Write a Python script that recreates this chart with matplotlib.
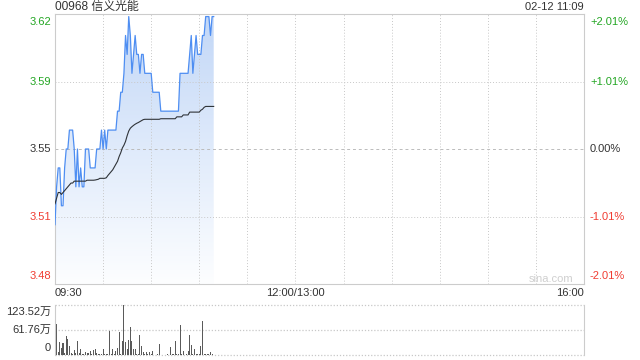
import numpy as np
import matplotlib
matplotlib.use("Agg")
import matplotlib.pyplot as plt
from matplotlib.colors import LinearSegmentedColormap

plt.rcParams['font.family'] = ['Liberation Sans', 'Noto Sans CJK SC', 'DejaVu Sans']

title = "00968 信义光能"
stamp = "02-12 11:09"
prev_close = 3.55
range_pct = 2.01

price = [3.51, 3.53, 3.54, 3.54, 3.52, 3.52, 3.54, 3.55, 3.55, 3.56,
         3.56, 3.56, 3.55, 3.53, 3.55, 3.53, 3.54, 3.53, 3.53, 3.55,
         3.55, 3.55, 3.54, 3.54, 3.54, 3.54, 3.55, 3.55, 3.55, 3.56,
         3.55, 3.56, 3.55, 3.56, 3.56, 3.56, 3.56, 3.56, 3.56, 3.57,
         3.57, 3.58, 3.58, 3.59, 3.61, 3.60, 3.62, 3.61, 3.59, 3.60,
         3.61, 3.60, 3.60, 3.59, 3.60, 3.60, 3.59, 3.59, 3.59, 3.59,
         3.59, 3.58, 3.58, 3.58, 3.58, 3.58, 3.57, 3.57, 3.57, 3.57,
         3.57, 3.57, 3.57, 3.57, 3.57, 3.57, 3.57, 3.57, 3.59, 3.59,
         3.59, 3.59, 3.59, 3.59, 3.60, 3.61, 3.59, 3.60, 3.61, 3.60,
         3.60, 3.60, 3.61, 3.61, 3.62, 3.62, 3.62, 3.61, 3.62, 3.62]

avg = [3.521, 3.524, 3.527, 3.527, 3.526, 3.527, 3.528, 3.529, 3.530, 3.531,
       3.532, 3.532, 3.533, 3.533, 3.533, 3.533, 3.533, 3.533, 3.533, 3.533,
       3.5335, 3.5335, 3.5335, 3.5335, 3.5335, 3.5336, 3.5338, 3.534, 3.5345, 3.5345,
       3.5345, 3.5345, 3.5348, 3.536, 3.537, 3.538, 3.539, 3.5405, 3.542, 3.5435,
       3.546, 3.548, 3.5505, 3.552, 3.554, 3.557, 3.5595, 3.561, 3.5618, 3.5625,
       3.5631, 3.5636, 3.564, 3.5645, 3.565, 3.5655, 3.5657, 3.5657, 3.5657, 3.5657,
       3.5657, 3.5657, 3.5657, 3.5657, 3.5657, 3.5657, 3.566, 3.566, 3.566, 3.566,
       3.566, 3.566, 3.566, 3.566, 3.566, 3.566, 3.567, 3.567, 3.567, 3.567,
       3.568, 3.568, 3.568, 3.568, 3.5695, 3.5695, 3.5695, 3.5695, 3.5695, 3.5695,
       3.5695, 3.5705, 3.571, 3.572, 3.5725, 3.5725, 3.5725, 3.5725, 3.5725, 3.5725]

# volume in 万 shares
volume = [55, 76, 8, 32, 17, 30, 4, 47, 39, 22,
          4, 2, 12, 5, 35, 5, 16, 3, 2, 8,
          4, 6, 11, 2, 12, 14, 6, 3, 2, 2,
          15, 2, 2, 2, 60, 2, 16, 3, 10, 17,
          58, 3, 35, 123.52, 33, 15, 37, 68, 35, 16,
          16, 3, 2, 49, 22, 7, 2, 7, 2, 7,
          2, 10, 1, 1, 2, 27, 1, 1, 1, 1,
          2, 1, 19, 2, 3, 35, 3, 2, 74, 2,
          10, 1, 2, 10, 49, 25, 2, 15, 2, 3,
          2, 21, 84, 2, 3, 2, 2, 7, 2, 1]

vol_max = 123.52
vol_labels = ["123.52万", "61.76万", "0"]
pct_labels = ["+2.01%", "+1.01%", "0.00%", "-1.01%", "-2.01%"]
x_labels = ["09:30", "12:00/13:00", "16:00"]
total_minutes = 330
break_minute = 150

GREEN = '#23a623'
RED = '#f03c32'
DARK = '#333333'
GRID = '#c8c8c8'
SPINE = '#cccccc'

fig = plt.figure(figsize=(6.4, 3.6), dpi=100)
W, H = 640, 360
ax = fig.add_axes([55 / W, (H - 284) / H, 529 / W, 270 / H])
axv = fig.add_axes([55 / W, (H - 355) / H, 529 / W, 50 / H])

t = np.arange(len(price))
ymax = prev_close * (1 + range_pct / 100)
ymin = prev_close * (1 - range_pct / 100)
levels = [ymax, prev_close * (1 + range_pct / 200), prev_close,
          prev_close * (1 - range_pct / 200), ymin]

# gradient fill under price
poly = ax.fill_between(t, price, ymin, facecolor='none', edgecolor='none')
cmap = LinearSegmentedColormap.from_list('g', ['#fdfeff', '#c2d7f7'])
grad = np.linspace(1, 0, 256).reshape(-1, 1)
im = ax.imshow(grad, extent=[t[0], t[-1], ymin, ymax], aspect='auto',
               cmap=cmap, vmin=0, vmax=1, origin='upper', zorder=1)
im.set_clip_path(poly.get_paths()[0], transform=ax.transData)

ax.plot(t, price, color='#4e8ef2', lw=0.9, zorder=3)
ax.plot(t, avg, color='#2f3338', lw=0.8, zorder=4)

ax.set_xlim(0, total_minutes)
ax.set_ylim(ymin, ymax)
ax.set_xticks([])
ax.set_yticks([])
for s in ax.spines.values():
    s.set_color(SPINE)
    s.set_linewidth(0.8)

# grids (drawn above the fill, below the lines)
for m in range(30, total_minutes, 30):
    ax.axvline(m, color=GRID, lw=0.7, ls=(0, (1, 2)), zorder=2)
ax.axhline(levels[1], color=GRID, lw=0.7, ls=(0, (1, 2)), zorder=2)
ax.axhline(levels[3], color=GRID, lw=0.7, ls=(0, (1, 2)), zorder=2)
ax.axhline(prev_close, color='#bbbbbb', lw=0.7, ls=(0, (3, 3)), zorder=2)

# y labels
price_colors = [GREEN, GREEN, DARK, RED, RED]
vas = ['top', 'center', 'center', 'center', 'bottom']
offs = [-3, 0, 0, 0, 3]
for lv, pl, c, va, o in zip(levels, pct_labels, price_colors, vas, offs):
    y_fig = ax.transData.transform((0, lv))[1] + o
    yf = y_fig / H
    fig.text(51 / W, yf, f"{lv:.2f}", color=c, fontsize=8, ha='right', va=va)
    fig.text(590 / W, yf, pl, color=c, fontsize=8, ha='left', va=va)

# x labels
fig.text(55 / W, 1 - 293 / H, x_labels[0], color=DARK, fontsize=8, ha='left', va='center')
xb = ax.transData.transform((break_minute, 0))[0] / W
fig.text(xb, 1 - 293 / H, x_labels[1], color=DARK, fontsize=8, ha='center', va='center')
fig.text(584 / W, 1 - 293 / H, x_labels[2], color=DARK, fontsize=8, ha='right', va='center')

fig.text(55 / W, 1 - 7 / H, title, color=DARK, fontsize=8.6, ha='left', va='center')
fig.text(584 / W, 1 - 7.5 / H, stamp, color=DARK, fontsize=8, ha='right', va='center')
fig.text(573 / W, 1 - 279 / H, "sina.com", color='#cfcfcf', fontsize=8, ha='right', va='center')

# volume
axv.bar(t, volume, width=0.65, color='#5a5a5a', linewidth=0, zorder=2)
axv.set_xlim(0, total_minutes)
axv.set_ylim(0, vol_max)
axv.set_xticks([])
axv.set_yticks([])
for k in ['top', 'bottom']:
    axv.spines[k].set_visible(False)
for k in ['left', 'right']:
    axv.spines[k].set_color(SPINE)
    axv.spines[k].set_linewidth(0.8)
for v in [0, vol_max / 2, vol_max]:
    axv.axhline(v, color=GRID, lw=0.9, ls=(0, (1, 1.5)), zorder=0.5, clip_on=False)
vvals = [vol_max, vol_max / 2, 0]
vvas = ['top', 'center', 'bottom']
voffs = [-2, 0, 2]
for v, lab, va, o in zip(vvals, vol_labels, vvas, voffs):
    yf = (axv.transData.transform((0, v))[1] + o) / H
    fig.text(51 / W, yf, lab, color=DARK, fontsize=8, ha='right', va=va)

fig.savefig("out.png", dpi=100)
